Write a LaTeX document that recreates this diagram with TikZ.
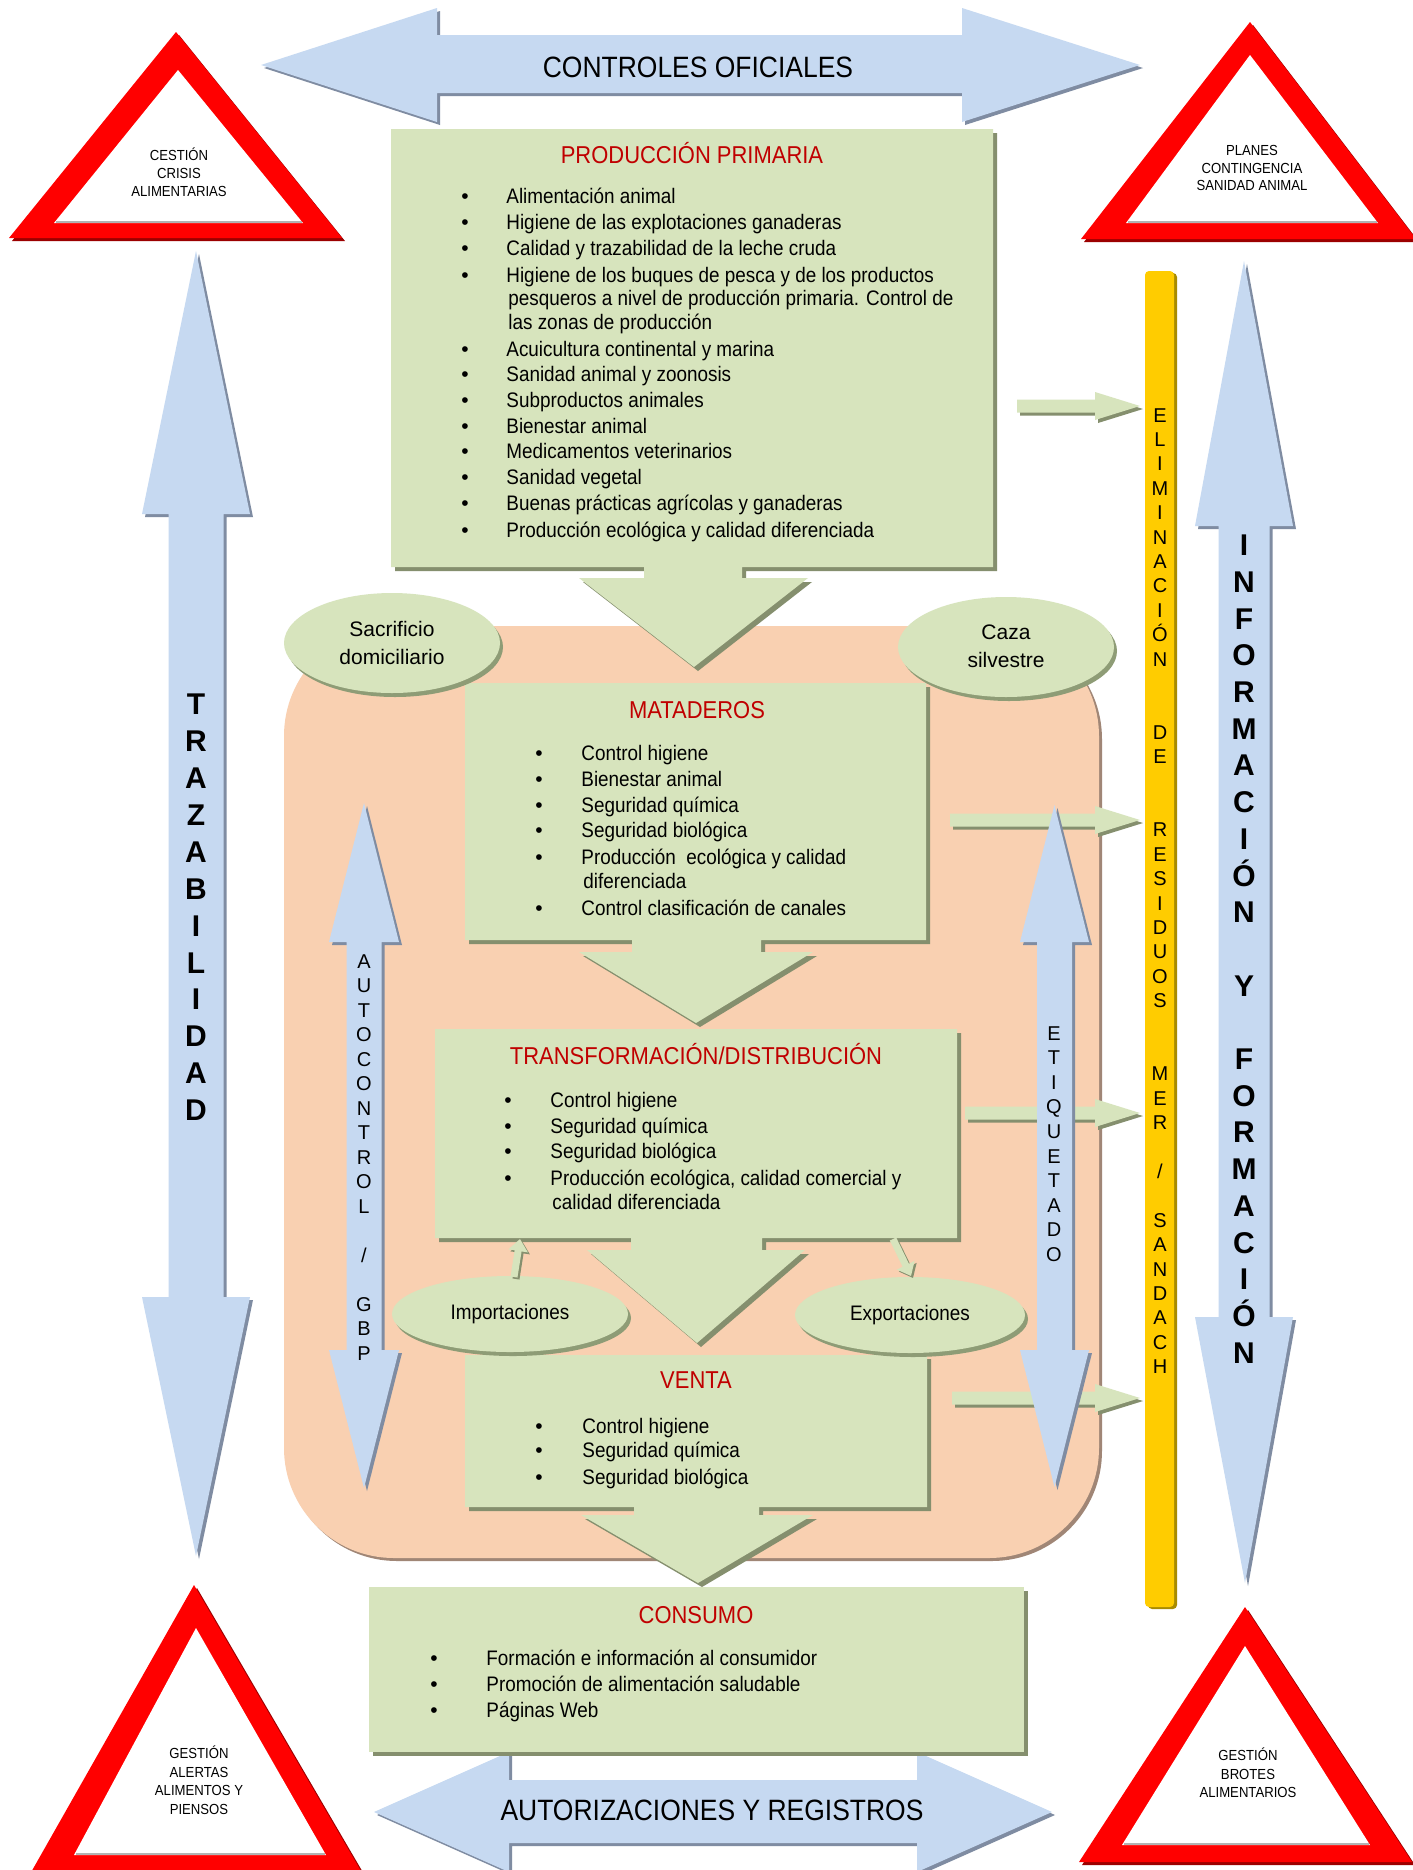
\documentclass[tikz,border=0pt]{standalone}
\usepackage{fontspec}
\setmainfont{Liberation Sans}
\newfontfamily\narrowfont{Liberation Sans}[FakeStretch=0.9]
\usetikzlibrary{shapes.geometric,arrows.meta}

\definecolor{boxgreen}{HTML}{D7E4BD}
\definecolor{boxshadow}{HTML}{858F6E}
\definecolor{ellshadow}{HTML}{8E9C76}
\definecolor{titlered}{HTML}{C00000}
\definecolor{arrowblue}{HTML}{C6D9F1}
\definecolor{blueshadow}{HTML}{7F8CA2}
\definecolor{pinkfill}{HTML}{F9D0B1}
\definecolor{pinkshadow}{HTML}{A08676}
\definecolor{baryellow}{HTML}{FFCC00}
\definecolor{yellowshadow}{HTML}{A88B00}
\definecolor{alertred}{HTML}{FF0000}
\definecolor{alertshadow}{HTML}{9C0000}

\newcommand\shadowfill[4]{\fill[#2, shift={(#4,#4)}] #1; \fill[#3] #1;}
\newcommand\greenright[2]{\shadowfill{(#1,{#2-6.5}) -- (1095,{#2-6.5}) -- (1095,{#2-14}) -- (1140,#2) -- (1095,{#2+14}) -- (1095,{#2+6.5}) -- (#1,{#2+6.5}) -- cycle}{boxshadow}{boxgreen}{3}}
\newcommand\bitem[5]{\node[bul] (#1b) at (#2,#4) {\textbullet}; \node[itm] (#1) at (#3,#4) {#5};}
\newcommand\witem[4]{\node[itm] (#1) at (#2,#3) {#4};}
\def\sl{/}

\begin{document}
\begin{tikzpicture}[x=0.5pt,y=-0.5pt,
  ttl/.style={font=\narrowfont\fontsize{12.2}{14}\selectfont, text=titlered, anchor=base, inner sep=0},
  itm/.style={font=\narrowfont\fontsize{10.5}{12}\selectfont, anchor=base west, inner sep=0},
  bul/.style={font=\fontsize{10.5}{12}\selectfont, anchor=base, inner sep=0},
  bigtxt/.style={font=\narrowfont\fontsize{14.7}{17}\selectfont, anchor=base, inner sep=0},
  tritxt/.style={font=\narrowfont\fontsize{7.3}{8.9}\selectfont, align=center, inner sep=0},
  bigl/.style={font=\bfseries\fontsize{15}{18}\selectfont, anchor=base, inner sep=0},
  smalll/.style={font=\fontsize{10}{12}\selectfont, anchor=base, inner sep=0},
  ell/.style={ellipse, fill=boxgreen, inner sep=0, align=center},
  sarrow/.style={line width=3.5pt, draw=boxgreen, -{Triangle[length=6pt,width=9.5pt]}},
  sarrowsh/.style={line width=3.5pt, draw=boxshadow, -{Triangle[length=6pt,width=9.5pt]}}
]
\path[use as bounding box] (0,0) rectangle (1413,1870);
\clip (0,0) rectangle (1413,1870);
\fill[white] (0,0) rectangle (1413,1870);

% pink area
\fill[pinkshadow, rounded corners=55pt] (287,629) rectangle (1102,1561);
\fill[pinkfill, rounded corners=55pt] (284,626) rectangle (1099,1558);

% alert triangles
\shadowfill{(176,32) -- (342,238) -- (9,238) -- cycle}{alertshadow}{alertred}{3}
\fill[white] (178,70) -- (303,223) -- (54,223) -- cycle;
\draw[gray!60, line width=1pt] (56,222) -- (302,222);
\shadowfill{(1250,22) -- (1416,239) -- (1081,239) -- cycle}{alertshadow}{alertred}{3}
\fill[white] (1250,55) -- (1378,223) -- (1126,223) -- cycle;
\draw[gray!60, line width=1pt] (1128,222) -- (1377,222);
\shadowfill{(194,1585) -- (372,1890) -- (21,1890) -- cycle}{alertshadow}{alertred}{3}
\fill[white] (196,1628) -- (326,1855) -- (74,1855) -- cycle;
\draw[gray!60, line width=1pt] (76,1854) -- (325,1854);
\shadowfill{(1245,1607) -- (1412,1862) -- (1079,1862) -- cycle}{alertshadow}{alertred}{3}
\fill[white] (1245,1646) -- (1370,1845) -- (1122,1845) -- cycle;
\draw[gray!60, line width=1pt] (1124,1844) -- (1369,1844);

% horizontal blue arrows
\shadowfill{(261,65) -- (437,8) -- (437,35) -- (962,35) -- (962,8) -- (1140,65) -- (962,122) -- (962,93) -- (437,93) -- (437,122) -- cycle}{blueshadow}{arrowblue}{3}
\shadowfill{(374,1812) -- (509,1752) -- (509,1780) -- (917,1780) -- (917,1752) -- (1052,1812) -- (917,1872) -- (917,1843) -- (509,1843) -- (509,1872) -- cycle}{blueshadow}{arrowblue}{3}

% big vertical blue arrows
\shadowfill{(196,251) -- (250,514) -- (223.5,514) -- (223.5,1297) -- (250,1297) -- (196,1556) -- (142,1297) -- (168.5,1297) -- (168.5,514) -- (142,514) -- cycle}{blueshadow}{arrowblue}{3}
\shadowfill{(1244,261) -- (1293,526) -- (1269.5,526) -- (1269.5,1317) -- (1293,1317) -- (1245,1583) -- (1195,1317) -- (1218.5,1317) -- (1218.5,526) -- (1195,526) -- cycle}{blueshadow}{arrowblue}{3}

% yellow bar
\fill[yellowshadow, rounded corners=2pt] (1148,273) rectangle (1177,1609);
\fill[baryellow, rounded corners=2pt] (1145,271) rectangle (1174,1607);

% green boxes with down arrows
\shadowfill{(391,129) -- (993,129) -- (993,567) -- (742,567) -- (742,578) -- (808,578) -- (694,667) -- (579,578) -- (644,578) -- (644,567) -- (391,567) -- cycle}{boxshadow}{boxgreen}{4}
\shadowfill{(465,683) -- (926,683) -- (926,940) -- (761,940) -- (761,952) -- (813,952) -- (696,1023) -- (579,952) -- (632,952) -- (632,940) -- (465,940) -- cycle}{boxshadow}{boxgreen}{4}
\shadowfill{(435,1029) -- (957,1029) -- (957,1238) -- (762,1238) -- (762,1250) -- (805,1250) -- (697,1343) -- (587,1250) -- (631,1250) -- (631,1238) -- (435,1238) -- cycle}{boxshadow}{boxgreen}{4}
\shadowfill{(465,1355) -- (927,1355) -- (927,1507) -- (759,1507) -- (759,1515) -- (813,1515) -- (698,1583) -- (581,1515) -- (634,1515) -- (634,1507) -- (465,1507) -- cycle}{boxshadow}{boxgreen}{4}
\shadowfill{(369,1587) rectangle (1024,1752)}{boxshadow}{boxgreen}{4}

% green arrows to the bar
\greenright{1017}{406}
\greenright{950}{820}
\greenright{965}{1113}
\greenright{952}{1398}

% inner blue double arrows
\shadowfill{(364,803) -- (399,942) -- (381.5,942) -- (381.5,1350) -- (399,1350) -- (364,1488) -- (329,1350) -- (346.5,1350) -- (346.5,942) -- (329,942) -- cycle}{blueshadow}{arrowblue}{3}
\shadowfill{(1054.5,805) -- (1089,942) -- (1072,942) -- (1072,1350) -- (1089,1350) -- (1054.5,1487) -- (1020,1350) -- (1037,1350) -- (1037,942) -- (1020,942) -- cycle}{blueshadow}{arrowblue}{3}

% ellipses
\fill[ellshadow] (395,647) ellipse [x radius=108, y radius=50];
\node[ell, minimum width=108pt, minimum height=50pt, font=\fontsize{10.5}{13.8}\selectfont] (sac) at (392,643) {Sacrificio\\domiciliario};
\fill[ellshadow] (1009,651) ellipse [x radius=108, y radius=50];
\node[ell, minimum width=108pt, minimum height=50pt, font=\fontsize{10.5}{13.8}\selectfont] (caza) at (1006,647) {\raisebox{1pt}{Caza}\\\raisebox{1pt}{silvestre}};
\fill[ellshadow] (513,1318) ellipse [x radius=118, y radius=38];
\node[ell, minimum width=118pt, minimum height=38pt, font=\narrowfont\fontsize{10.5}{12}\selectfont] (imp) at (510,1314) {\raisebox{2pt}{Importaciones}};
\fill[ellshadow] (913,1319) ellipse [x radius=115, y radius=38];
\node[ell, minimum width=115pt, minimum height=38pt, font=\narrowfont\fontsize{10.5}{12}\selectfont] (exp) at (910,1315) {\raisebox{2pt}{Exportaciones}};

% small arrows
\coordinate (ia) at (514,1277);
\coordinate (ib) at (520,1239);
\coordinate (ea) at (893,1239);
\coordinate (eb) at (911,1276);
\draw[sarrowsh] ([shift={(2,2)}]ia) -- ([shift={(2,2)}]ib);
\draw[sarrow] (ia) -- (ib);
\draw[sarrowsh] ([shift={(2,2)}]ea) -- ([shift={(2,2)}]eb);
\draw[sarrow] (ea) -- (eb);

% big arrow texts
\node[bigtxt] (co) at (698,77) {CONTROLES OFICIALES};
\node[bigtxt] (au) at (712,1820) {AUTORIZACIONES Y REGISTROS};

% triangle texts
\node[tritxt] (tl) at (179,172) {CESTIÓN\\CRISIS\\ALIMENTARIAS};
\node[tritxt] (tr) at (1252,168) {PLANES\\CONTINGENCIA\\SANIDAD ANIMAL};
\node[tritxt, font=\narrowfont\fontsize{7.3}{9.25}\selectfont] (bl) at (199,1780) {GESTIÓN\\ALERTAS\\ALIMENTOS Y\\PIENSOS};
\node[tritxt, font=\narrowfont\fontsize{7.3}{9.25}\selectfont] (br) at (1248,1773) {GESTIÓN\\BROTES\\ALIMENTARIOS};

% vertical letters
\foreach \i/\c in {0/T,1/R,2/A,3/Z,4/A,5/B,6/I,7/L,8/I,9/D,10/A,11/D}
  \node[bigl] (tz\i) at (196,{704+36.9*\i+10.7}) {\c};
\foreach \i/\c in {0/I,1/N,2/F,3/O,4/R,5/M,6/A,7/C,8/I,9/Ó,10/N,12/Y,14/F,15/O,16/R,17/M,18/A,19/C,20/I,21/Ó,22/N}
  \node[bigl] (inf\i) at (1244,{545+36.7*\i+10.7}) {\c};
\foreach \i/\c in {0/A,1/U,2/T,3/O,4/C,5/O,6/N,7/T,8/R,9/O,10/L,12/\sl,14/G,15/B,16/P}
  \node[smalll] (ac\i) at (364,{961+24.5*\i+7}) {\c};
\foreach \i/\c in {0/E,1/T,2/I,3/Q,4/U,5/E,6/T,7/A,8/D,9/O}
  \node[smalll] (et\i) at (1054,{1033+24.6*\i+7}) {\c};
\foreach \i/\c in {0/E,1/L,2/I,3/M,4/I,5/N,6/A,7/C,8/I,9/Ó,10/N,13/D,14/E,17/R,18/E,19/S,20/I,21/D,22/U,23/O,24/S,27/M,28/E,29/R,31/\sl,33/S,34/A,35/N,36/D,37/A,38/C,39/H}
  \node[smalll] (yb\i) at (1160,{415+24.4*\i+7}) {\c};

% PRODUCCION PRIMARIA
\node[ttl] (ppt) at (692,163) {PRODUCCIÓN PRIMARIA};
\bitem{pp1}{465}{506}{203}{Alimentación animal}
\bitem{pp2}{465}{506}{229}{Higiene de las explotaciones ganaderas}
\bitem{pp3}{465}{506}{255}{Calidad y trazabilidad de la leche cruda}
\bitem{pp4}{465}{506}{282}{Higiene de los buques de pesca y de los productos}
\witem{pp4a}{508}{305}{pesqueros a nivel de producción primaria. Control de}
\witem{pp4b}{508}{329}{las zonas de producción}
\bitem{pp5}{465}{506}{356}{Acuicultura continental y marina}
\bitem{pp6}{465}{506}{381}{Sanidad animal y zoonosis}
\bitem{pp7}{465}{506}{407}{Subproductos animales}
\bitem{pp8}{465}{506}{433}{Bienestar animal}
\bitem{pp9}{465}{506}{458}{Medicamentos veterinarios}
\bitem{pp10}{465}{506}{484}{Sanidad vegetal}
\bitem{pp11}{465}{506}{510}{Buenas prácticas agrícolas y ganaderas}
\bitem{pp12}{465}{506}{537}{Producción ecológica y calidad diferenciada}

% MATADEROS
\node[ttl] (matt) at (697,718) {MATADEROS};
\bitem{ma1}{539}{581}{760}{Control higiene}
\bitem{ma2}{539}{581}{786}{Bienestar animal}
\bitem{ma3}{539}{581}{812}{Seguridad química}
\bitem{ma4}{539}{581}{837}{Seguridad biológica}
\bitem{ma5}{539}{581}{864}{Producción~ ecológica y calidad}
\witem{ma5a}{583}{888}{diferenciada}
\bitem{ma6}{539}{581}{915}{Control clasificación de canales}

% TRANSFORMACION
\node[ttl] (trt) at (696,1064) {TRANSFORMACIÓN/DISTRIBUCIÓN};
\bitem{tr1}{508}{550}{1107}{Control higiene}
\bitem{tr2}{508}{550}{1133}{Seguridad química}
\bitem{tr3}{508}{550}{1158}{Seguridad biológica}
\bitem{tr4}{508}{550}{1185}{Producción ecológica, calidad comercial y}
\witem{tr4a}{552}{1209}{calidad diferenciada}

% VENTA
\node[ttl] (vet) at (696,1388) {VENTA};
\bitem{ve1}{539}{582}{1433}{Control higiene}
\bitem{ve2}{539}{582}{1457}{Seguridad química}
\bitem{ve3}{539}{582}{1484}{Seguridad biológica}

% CONSUMO
\node[ttl] (cot) at (696,1623) {CONSUMO};
\bitem{cs1}{434}{486}{1665}{Formación e información al consumidor}
\bitem{cs2}{434}{486}{1691}{Promoción de alimentación saludable}
\bitem{cs3}{434}{486}{1717}{Páginas Web}
\end{tikzpicture}
\end{document}
